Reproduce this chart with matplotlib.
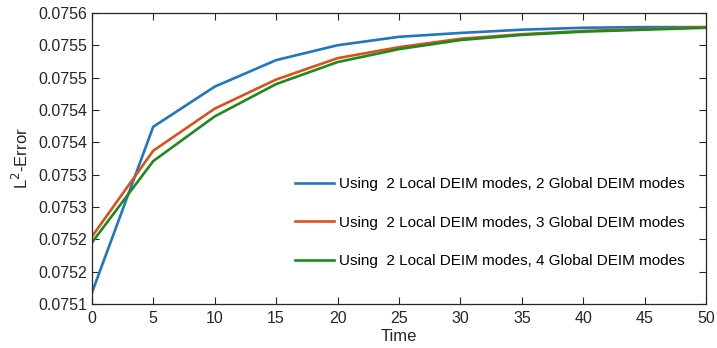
import matplotlib
matplotlib.use("Agg")
import matplotlib.pyplot as plt
from matplotlib.ticker import FixedLocator, FixedFormatter

plt.rcParams['font.family'] = ['Liberation Sans', 'DejaVu Sans']

time = [0, 5, 10, 15, 20, 25, 30, 35, 40, 45, 50]
err_2g = [0.075137, 0.075394, 0.075456, 0.075497, 0.075520, 0.075533, 0.075539, 0.075544, 0.075547, 0.075548, 0.075548]
err_3g = [0.075224, 0.075357, 0.075422, 0.075467, 0.075500, 0.075517, 0.075530, 0.075537, 0.075542, 0.075545, 0.075548]
err_4g = [0.075215, 0.075341, 0.075410, 0.075460, 0.075494, 0.075514, 0.075528, 0.075536, 0.075541, 0.075544, 0.075547]
labels = ["Using  2 Local DEIM modes, 2 Global DEIM modes",
          "Using  2 Local DEIM modes, 3 Global DEIM modes",
          "Using  2 Local DEIM modes, 4 Global DEIM modes"]
colors = ["#1f77c0", "#d95319", "#1e8a1e"]
ytick_vals = [0.07512, 0.07517, 0.07522, 0.07527, 0.07532, 0.07537, 0.07542, 0.07547, 0.07552, 0.07557]
ytick_labels = ["0.0751", "0.0752", "0.0752", "0.0753", "0.0753", "0.0754", "0.0754", "0.0755", "0.0755", "0.0756"]
xtick_vals = [0, 5, 10, 15, 20, 25, 30, 35, 40, 45, 50]

fig = plt.figure(figsize=(7.17, 3.48), dpi=100)
ax = fig.add_axes([0.128, 0.126, 0.857, 0.837])
for ys, lab, c in zip([err_2g, err_3g, err_4g], labels, colors):
    ax.plot(time, ys, color=c, lw=1.9, label=lab)

ax.set_xlim(0, 50)
ax.set_ylim(ytick_vals[0], ytick_vals[-1])
ax.xaxis.set_major_locator(FixedLocator(xtick_vals))
ax.yaxis.set_major_locator(FixedLocator(ytick_vals))
ax.yaxis.set_major_formatter(FixedFormatter(ytick_labels))
ax.tick_params(direction='in', top=True, right=True, labelsize=11.5, length=5, width=0.8, colors='#262626')
ax.tick_params(axis='x', pad=5)
for s in ax.spines.values():
    s.set_linewidth(0.9)
    s.set_color('#262626')
ax.set_xlabel("Time", fontsize=12, labelpad=2, color='#262626')
ax.set_ylabel("L$^2$-Error", fontsize=12, labelpad=5, color='#262626')

ax.legend(loc='center left', bbox_to_anchor=(0.33, 0.28), frameon=False, fontsize=11,
          handlelength=2.6, handletextpad=0.3, labelspacing=1.6, borderpad=0, borderaxespad=0)

fig.savefig("out.png", dpi=100)
